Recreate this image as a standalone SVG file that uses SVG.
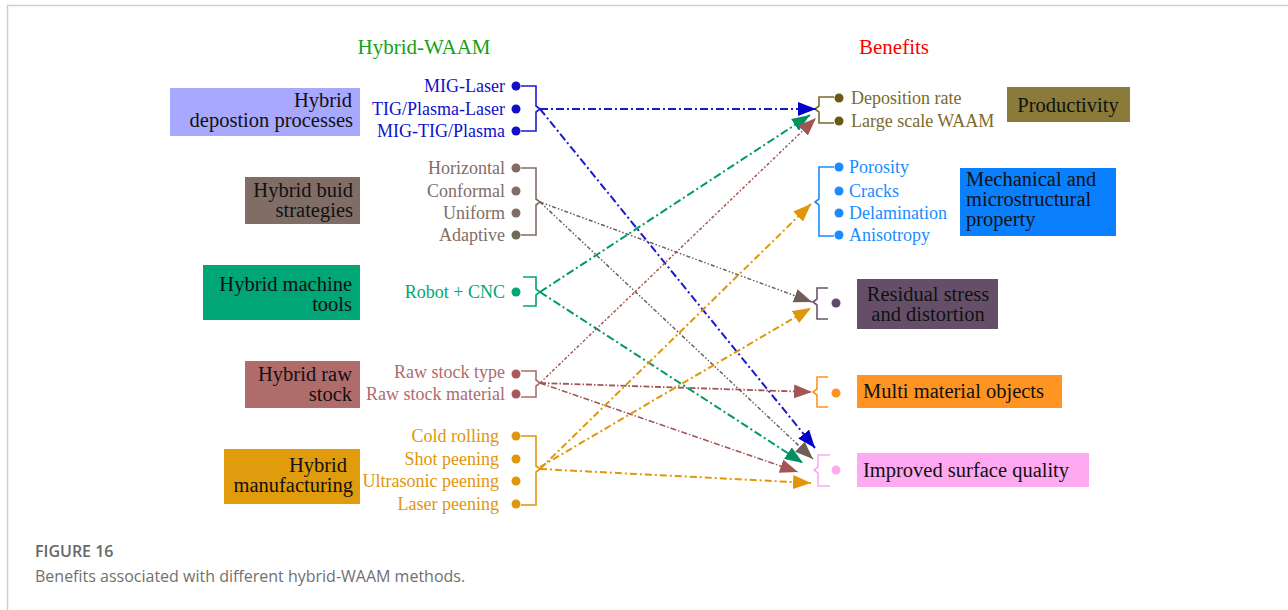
<svg xmlns="http://www.w3.org/2000/svg" width="1288" height="610" viewBox="0 0 1288 610">
<style>
.lbl{font-family:"Liberation Serif","Times New Roman",serif;font-size:20.5px;fill:#111}
.it{font-family:"Liberation Serif","Times New Roman",serif;font-size:18px}
.ttl{font-family:"Liberation Serif","Times New Roman",serif;font-size:21px}
.br{fill:none;stroke-width:1.6}
.cn{fill:none}
.cap1{font-family:"Open Sans","Lato",sans-serif;font-size:16px;font-weight:600;fill:#666}
.cap2{font-family:"Open Sans","Lato",sans-serif;font-size:16px;fill:#707070}
</style>
<defs>
<marker id="aBlue" markerUnits="userSpaceOnUse" markerWidth="19" markerHeight="14" refX="18" refY="7" orient="auto"><path d="M0,0 L18,7 L0,14 z" fill="#0000cc"/></marker>
<marker id="aBrown" markerUnits="userSpaceOnUse" markerWidth="19" markerHeight="14" refX="18" refY="7" orient="auto"><path d="M0,0 L18,7 L0,14 z" fill="#6e5e56"/></marker>
<marker id="aGreen" markerUnits="userSpaceOnUse" markerWidth="19" markerHeight="14" refX="18" refY="7" orient="auto"><path d="M0,0 L18,7 L0,14 z" fill="#008f60"/></marker>
<marker id="aMaroon" markerUnits="userSpaceOnUse" markerWidth="19" markerHeight="14" refX="18" refY="7" orient="auto"><path d="M0,0 L18,7 L0,14 z" fill="#a35555"/></marker>
<marker id="aOrange" markerUnits="userSpaceOnUse" markerWidth="19" markerHeight="14" refX="18" refY="7" orient="auto"><path d="M0,0 L18,7 L0,14 z" fill="#e0960a"/></marker>
</defs>
<rect x="0" y="0" width="1288" height="610" fill="#fff"/>
<path d="M7.5,610 V5.5 H1288" fill="none" stroke="#cfcfcf" stroke-width="1.5"/>

<text class="ttl" x="424" y="54" text-anchor="middle" fill="#16a016">Hybrid-WAAM</text>
<text class="ttl" x="894" y="54" text-anchor="middle" fill="#ff0000">Benefits</text>

<!-- Left groups -->
<g id="hybrid-deposition">
<rect x="170" y="88" width="190" height="48" fill="#a8a8ff"/>
<text class="lbl" x="352" y="107" text-anchor="end">Hybrid</text>
<text class="lbl" x="353" y="127" text-anchor="end">depostion processes</text>
<g fill="#1010c8"><text class="it" x="505" y="92" text-anchor="end">MIG-Laser</text><text class="it" x="505" y="115" text-anchor="end">TIG/Plasma-Laser</text><text class="it" x="505" y="137" text-anchor="end">MIG-TIG/Plasma</text>
<circle cx="516" cy="86" r="4.5"/><circle cx="516" cy="109" r="4.5"/><circle cx="516" cy="131" r="4.5"/></g>
<path class="br" stroke="#1a1ad0" d="M521,86 H536 V106 L540,109 L536,112 V131 H521"/>
</g>

<g id="hybrid-build">
<rect x="245" y="177" width="115" height="47" fill="#7f6d66"/>
<text class="lbl" x="353" y="197" text-anchor="end">Hybrid buid</text>
<text class="lbl" x="353" y="217" text-anchor="end">strategies</text>
<g fill="#806e66"><text class="it" x="505" y="174" text-anchor="end">Horizontal</text><text class="it" x="505" y="197" text-anchor="end">Conformal</text><text class="it" x="505" y="219" text-anchor="end">Uniform</text><text class="it" x="505" y="241" text-anchor="end">Adaptive</text>
<circle cx="516" cy="168" r="4.5"/><circle cx="516" cy="191" r="4.5"/><circle cx="516" cy="213" r="4.5"/><circle cx="516" cy="235" r="4.5" fill="#6e6a58"/></g>
<path class="br" stroke="#806e66" d="M521,168 H536 V199 L540,202 L536,205 V235 H521"/>
</g>

<g id="hybrid-machine">
<rect x="203" y="265" width="157" height="55" fill="#00a676"/>
<text class="lbl" x="352" y="291" text-anchor="end">Hybrid machine</text>
<text class="lbl" x="352" y="311" text-anchor="end">tools</text>
<g fill="#00a676"><text class="it" x="505" y="298" text-anchor="end">Robot + CNC</text><circle cx="516" cy="292" r="4.5"/></g>
<path class="br" stroke="#00a676" d="M523,277 H536 V289 L540,292 L536,295 V306 H523"/>
</g>

<g id="hybrid-raw">
<rect x="245" y="361" width="115" height="47" fill="#b06b6b"/>
<text class="lbl" x="352" y="381" text-anchor="end">Hybrid raw</text>
<text class="lbl" x="352" y="401" text-anchor="end">stock</text>
<g fill="#a85a5a"><text class="it" x="505" y="378" text-anchor="end" fill="#b06b6b">Raw stock type</text><text class="it" x="505" y="400" text-anchor="end" fill="#b06b6b">Raw stock material</text>
<circle cx="516" cy="374" r="4.5"/><circle cx="516" cy="394" r="4.5"/></g>
<path class="br" stroke="#b06b6b" d="M521,371 H536 V380 L540,383 L536,386 V397 H521"/>
</g>

<g id="hybrid-manufacturing">
<rect x="224" y="449" width="136" height="55" fill="#e09c0c"/>
<text class="lbl" x="347" y="472" text-anchor="end">Hybrid</text>
<text class="lbl" x="353" y="492" text-anchor="end">manufacturing</text>
<g fill="#e0960a"><text class="it" x="499" y="442" text-anchor="end">Cold rolling</text><text class="it" x="499" y="465" text-anchor="end">Shot peening</text><text class="it" x="499" y="487" text-anchor="end">Ultrasonic peening</text><text class="it" x="499" y="510" text-anchor="end">Laser peening</text>
<circle cx="516" cy="436" r="4.5"/><circle cx="516" cy="459" r="4.5"/><circle cx="516" cy="481" r="4.5"/><circle cx="516" cy="504" r="4.5"/></g>
<path class="br" stroke="#e0960a" d="M521,436 H536 V466 L540,469 L536,472 V505 H521"/>
</g>

<!-- Right groups -->
<g id="productivity">
<path class="br" stroke="#7a6a2a" d="M834,97 H819 V106 L815,109 L819,112 V123 H834"/>
<g fill="#6b5a16"><circle cx="839" cy="98" r="4.5"/><circle cx="839" cy="121" r="4.5"/></g>
<g fill="#7a6a2a"><text class="it" x="851" y="104">Deposition rate</text><text class="it" x="851" y="127">Large scale WAAM</text></g>
<rect x="1007" y="87" width="123" height="35" fill="#8b7b3b"/>
<text class="lbl" x="1068" y="112" text-anchor="middle">Productivity</text>
</g>

<g id="mechanical">
<path class="br" stroke="#1a8cff" d="M834,167 H819 V199 L815,202 L819,205 V236 H834"/>
<g fill="#1a8cff"><circle cx="839" cy="167" r="4.5"/><circle cx="839" cy="191" r="4.5"/><circle cx="839" cy="213" r="4.5"/><circle cx="839" cy="235" r="4.5"/>
<text class="it" x="849" y="173">Porosity</text><text class="it" x="849" y="197">Cracks</text><text class="it" x="849" y="219">Delamination</text><text class="it" x="849" y="241">Anisotropy</text></g>
<rect x="960" y="168" width="156" height="68" fill="#0a80ff"/>
<text class="lbl" x="966" y="186" font-size="19.5">Mechanical and</text>
<text class="lbl" x="966" y="206" font-size="19.5">microstructural</text>
<text class="lbl" x="966" y="226" font-size="19.5">property</text>
</g>

<g id="residual">
<path class="br" stroke="#6a566c" d="M828,288 H817 V299 L813,302 L817,305 V319 H828"/>
<circle cx="836" cy="303" r="4.5" fill="#5e4a66"/>
<rect x="857" y="279" width="141" height="50" fill="#654f68"/>
<text class="lbl" x="928" y="301" text-anchor="middle">Residual stress</text>
<text class="lbl" x="928" y="321" text-anchor="middle">and distortion</text>
</g>

<g id="multi-material">
<path class="br" stroke="#ff9320" d="M828,377 H817 V389 L813,392 L817,395 V407 H828"/>
<circle cx="836" cy="393" r="4.5" fill="#ff9320"/>
<rect x="857" y="375" width="205" height="33" fill="#ff9422"/>
<text class="lbl" x="863" y="398">Multi material objects</text>
</g>

<g id="surface-quality">
<path class="br" stroke="#ffa8f0" d="M830,455 H818 V467 L814,470 L818,473 V486 H830"/>
<circle cx="836" cy="470" r="4.5" fill="#ffa8f0"/>
<rect x="857" y="453" width="232" height="34" fill="#ffaaf0"/>
<text class="lbl" x="863" y="477">Improved surface quality</text>
</g>

<!-- Connectors -->
<g id="connectors" class="cn">
<path d="M540,109 L816,109" stroke="#1a1acc" stroke-width="2" stroke-dasharray="8,3,2,3" marker-end="url(#aBlue)"/>
<path d="M540,109 L815,448" stroke="#1a1acc" stroke-width="2" stroke-dasharray="8,3,2,3" marker-end="url(#aBlue)"/>
<path d="M540,202 L812,302" stroke="#6e5e56" stroke-width="1.5" stroke-dasharray="4,2,1.5,2,1.5,2" marker-end="url(#aBrown)"/>
<path d="M540,202 L813,459" stroke="#6e5e56" stroke-width="1.5" stroke-dasharray="4,2,1.5,2,1.5,2" marker-end="url(#aBrown)"/>
<path d="M540,292 L810,115" stroke="#009966" stroke-width="2" stroke-dasharray="8,3,2,3" marker-end="url(#aGreen)"/>
<path d="M540,292 L803,463" stroke="#009966" stroke-width="2" stroke-dasharray="8,3,2,3" marker-end="url(#aGreen)"/>
<path d="M540,383 L816,118" stroke="#a35555" stroke-width="1.5" stroke-dasharray="3,2,1.5,2" marker-end="url(#aMaroon)"/>
<path d="M540,383 L812,392" stroke="#a35555" stroke-width="1.8" stroke-dasharray="6,2,1.5,2" marker-end="url(#aMaroon)"/>
<path d="M540,383 L798,472" stroke="#a35555" stroke-width="1.5" stroke-dasharray="6,2,1.5,2" marker-end="url(#aMaroon)"/>
<path d="M540,469 L811,204" stroke="#e0960a" stroke-width="2" stroke-dasharray="7,3,2,3" marker-end="url(#aOrange)"/>
<path d="M540,467 L811,308" stroke="#e0960a" stroke-width="2" stroke-dasharray="7,3,2,3" marker-end="url(#aOrange)"/>
<path d="M540,469 L811,483" stroke="#e0960a" stroke-width="2" stroke-dasharray="7,3,2,3" marker-end="url(#aOrange)"/>
</g>

<text class="cap1" x="35" y="557">FIGURE 16</text>
<text class="cap2" x="35" y="582">Benefits associated with different hybrid-WAAM methods.</text>
</svg>
